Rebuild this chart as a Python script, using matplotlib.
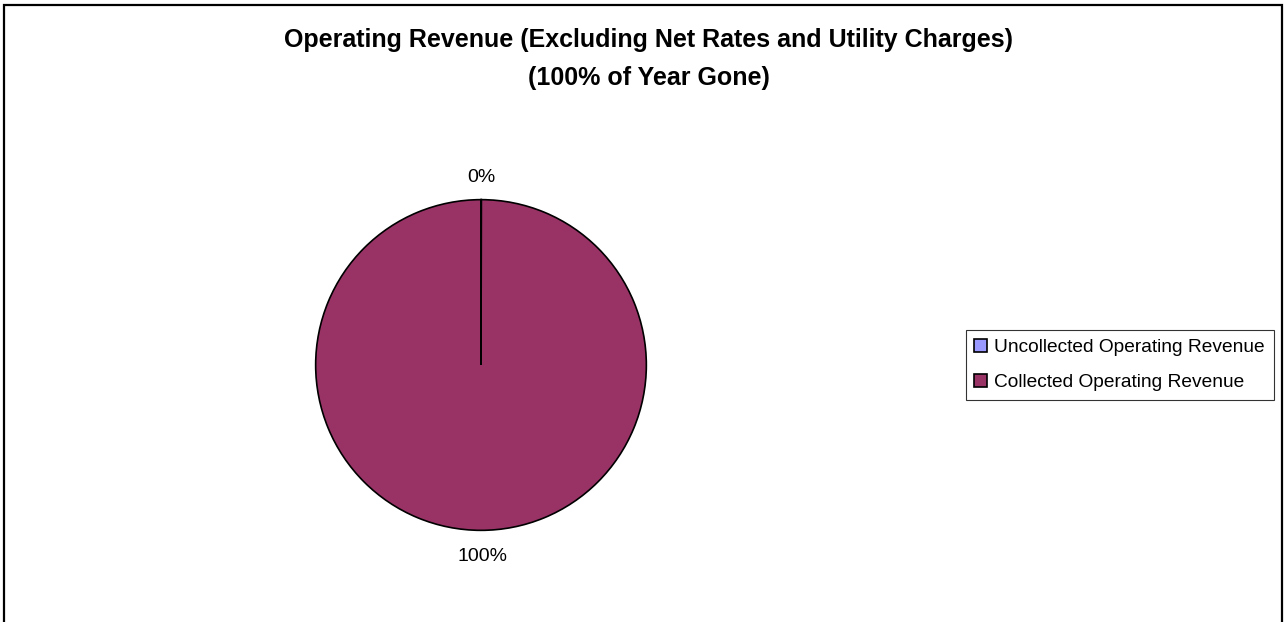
import matplotlib.pyplot as plt
from matplotlib.patches import Rectangle

plt.rcParams['font.family'] = ['Liberation Sans', 'DejaVu Sans']

# Datos del gráfico (la parte no cobrada es prácticamente nula)
categorias = ['Uncollected Operating Revenue', 'Collected Operating Revenue']
valores = [0.04, 99.96]
colores = ['#9999FF', '#993366']

W, H = 1284, 622
fig = plt.figure(figsize=(W / 100, H / 100), dpi=100)

# Marco exterior del gráfico
fig.patches.append(Rectangle((4 / W, -0.05), (1282 - 4) / W, 1.05 - 5 / H,
                             transform=fig.transFigure, fill=False,
                             edgecolor='black', linewidth=1.6))

# Título
fig.text(649 / W, 1 - 47 / H, 'Operating Revenue (Excluding Net Rates and Utility Charges)',
         ha='center', va='baseline', fontsize=18, fontweight='bold')
fig.text(649 / W, 1 - 85 / H, '(100% of Year Gone)',
         ha='center', va='baseline', fontsize=18, fontweight='bold')

# Pastel
cx, cy, r = 481, 365, 167
ax = fig.add_axes([(cx - r) / W, (H - cy - r) / H, 2 * r / W, 2 * r / H])
wedges, _, autotexts = ax.pie(valores, colors=colores, startangle=90, counterclock=False,
                              autopct='%.0f%%', pctdistance=1.135, radius=1,
                              wedgeprops=dict(edgecolor='black', linewidth=1.2),
                              textprops=dict(fontsize=14))
autotexts[1].set_position((0.01, -1.16))
ax.set_xlim(-1.01, 1.01)
ax.set_ylim(-1.01, 1.01)
ax.set_aspect('equal')
ax.axis('off')

# Leyenda
leg = fig.legend(wedges, categorias, loc='center', bbox_to_anchor=(1119.5 / W, 1 - 365 / H),
                 fontsize=13.8, frameon=True, fancybox=False, edgecolor='black',
                 handlelength=0.65, handleheight=0.65, handletextpad=0.4,
                 borderpad=0.45, labelspacing=0.95)
leg.get_frame().set_linewidth(0.8)

fig.savefig('out.png', dpi=100)
